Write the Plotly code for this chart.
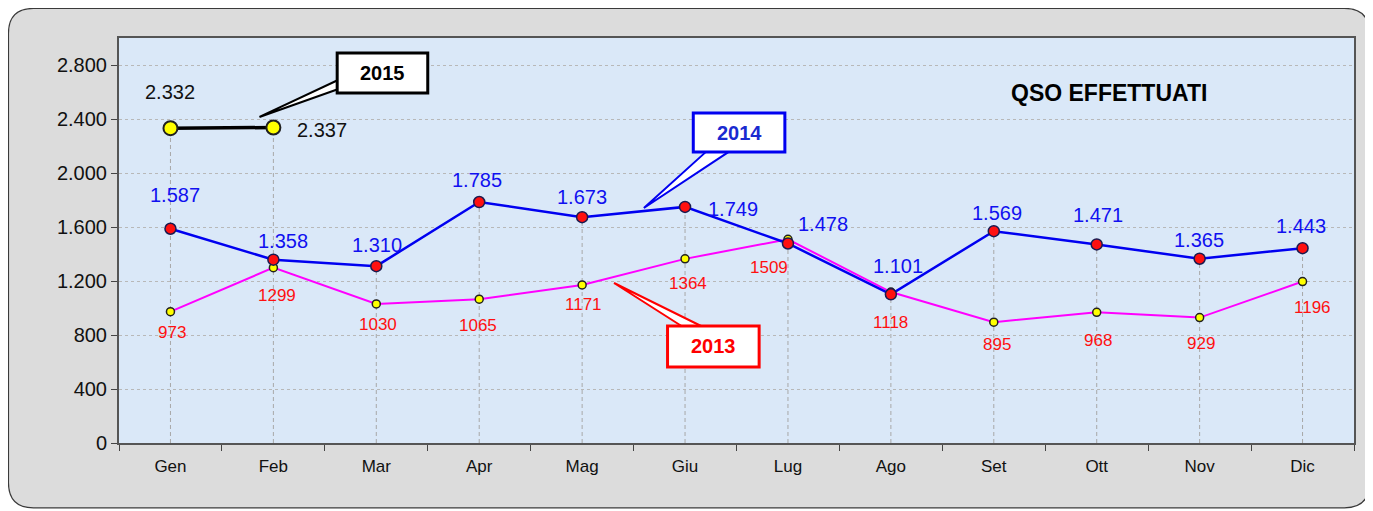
import plotly.graph_objs as go

months = ['Gen', 'Feb', 'Mar', 'Apr', 'Mag', 'Giu', 'Lug', 'Ago', 'Set', 'Ott', 'Nov', 'Dic']
qso_2013 = [973, 1299, 1030, 1065, 1171, 1364, 1509, 1118, 895, 968, 929, 1196]
qso_2014 = [1587, 1358, 1310, 1785, 1673, 1749, 1478, 1101, 1569, 1471, 1365, 1443]
qso_2015 = [2332, 2337]
y_ticks = [0, 400, 800, 1200, 1600, 2000, 2400, 2800]

FONT = 'Liberation Sans, Arial, sans-serif'

# label offsets in px (dx, dy) for each point
off_2013 = [(2, 21), (4, 28), (2, 21), (-1, 26), (1, 20), (3, 25), (-19, 28),
            (0, 30), (3, 22), (1, 28), (1, 26), (10, 26)]
off_2014 = [(5, -34), (10, -19), (1, -21), (-2, -22), (0, -20), (48, 2), (35, -19),
            (7, -28), (3, -18), (1, -29), (-1, -19), (-2, -22)]
off_2015 = [(0, -36), (49, 2)]


def dotted(v):
    return f'{v:,}'.replace(',', '.')


fig = go.Figure()

# drop lines
dx, dy = [], []
for i, m in enumerate(months):
    vals = [qso_2013[i], qso_2014[i]] + ([qso_2015[i]] if i < len(qso_2015) else [])
    dx += [m, m, None]
    dy += [0, max(vals), None]
fig.add_trace(go.Scatter(x=dx, y=dy, mode='lines', hoverinfo='skip',
                         line=dict(color='#a8a8a8', width=1, dash='4px,3px')))

fig.add_trace(go.Scatter(
    x=months, y=qso_2013, mode='lines+markers', name='2013',
    line=dict(color='#ff00ff', width=2),
    marker=dict(size=8, color='#ffff00', line=dict(color='#202020', width=1.5))))
fig.add_trace(go.Scatter(
    x=months, y=qso_2014, mode='lines+markers', name='2014',
    line=dict(color='#0000f0', width=2.5),
    marker=dict(size=11, color='#ff1010', line=dict(color='#1a1a50', width=1.5))))
fig.add_trace(go.Scatter(
    x=months[:len(qso_2015)], y=qso_2015, mode='lines+markers', name='2015',
    line=dict(color='#000000', width=3.5),
    marker=dict(size=14, color='#ffff00', line=dict(color='#202020', width=2))))

annotations = []
for vals, offs, color, size, fmt in [
        (qso_2013, off_2013, '#ff1010', 17, str),
        (qso_2014, off_2014, '#1010f0', 20, dotted),
        (qso_2015, off_2015, '#111111', 20, dotted)]:
    for i, v in enumerate(vals):
        annotations.append(dict(x=months[i], y=v, text=fmt(v), showarrow=False,
                                xshift=offs[i][0], yshift=-offs[i][1],
                                font=dict(family=FONT, size=size, color=color)))

annotations.append(dict(x=0.802, y=0.864, xref='paper', yref='paper', showarrow=False,
                        xanchor='center', yanchor='middle',
                        text='<b>QSO EFFETTUATI</b>',
                        font=dict(family=FONT, size=23, color='#000000')))

shapes = []
# outer rounded frame
x0, x1, y0, y1 = -0.0895, 1.0125, -0.160, 1.073
rx, ry = 25 / 1235, 25 / 405
frame = (f'M {x0+rx},{y1} L {x1-rx},{y1} Q {x1},{y1} {x1},{y1-ry} '
         f'L {x1},{y0+ry} Q {x1},{y0} {x1-rx},{y0} L {x0+rx},{y0} '
         f'Q {x0},{y0} {x0},{y0+ry} L {x0},{y1-ry} Q {x0},{y1} {x0+rx},{y1} Z')
shapes.append(dict(type='path', path=frame, xref='paper', yref='paper', layer='below',
                   fillcolor='#dcdcdc', line=dict(color='#3a3a3a', width=1.2)))
shapes.append(dict(type='rect', x0=0, x1=1, y0=0, y1=1, xref='paper', yref='paper',
                   layer='below', fillcolor='#dae8f8', line=dict(width=0)))

# callouts: (label, color, box x0,x1,y0,y1, wedge base pts, tip)
callouts = [
    ('2015', '#000000', (1.62, 2.50, 2593, 2889), [(1.66, 2700), (1.66, 2630)], (0.865, 2415)),
    ('2014', '#0000f0', (5.08, 5.97, 2156, 2444), [(5.23, 2175), (5.46, 2175)], (4.60, 1741)),
    ('2013', '#ff0000', (4.83, 5.72, 563, 867), [(5.00, 850), (5.20, 850)], (4.31, 1185)),
]
for label, color, (bx0, bx1, by0, by1), base, tip in callouts:
    shapes.append(dict(type='path', xref='x', yref='y',
                       path=f'M {base[0][0]},{base[0][1]} L {tip[0]},{tip[1]} L {base[1][0]},{base[1][1]} Z',
                       fillcolor='white', line=dict(color=color, width=2)))
    shapes.append(dict(type='rect', xref='x', yref='y', x0=bx0, x1=bx1, y0=by0, y1=by1,
                       fillcolor='white', line=dict(color=color, width=3)))
    annotations.append(dict(x=(bx0 + bx1) / 2, y=(by0 + by1) / 2, text=f'<b>{label}</b>',
                            showarrow=False,
                            font=dict(family=FONT, size=20, color=color if color != '#0000f0' else '#1a2ad0')))

# page body has an 8px margin, so the figure is 8px smaller on each side
fig.update_layout(
    width=1365, height=503,
    margin=dict(l=111, r=19, t=30, b=68),
    paper_bgcolor='white', plot_bgcolor='rgba(0,0,0,0)',
    showlegend=False, separators=',.',
    font=dict(family=FONT, color='#111111'),
    shapes=shapes, annotations=annotations,
    xaxis=dict(type='category', range=[-0.5, 11.5], tickson='boundaries',
               ticks='outside', ticklen=6, tickcolor='#444', showgrid=False,
               showline=True, linecolor='#555555', linewidth=2, mirror=True,
               ticklabelstandoff=7,
               tickfont=dict(size=17, color='#111111', family=FONT)),
    yaxis=dict(range=[0, 3000], tickvals=y_ticks, tickformat=',d',
               ticks='outside', ticklen=6, tickcolor='#444',
               showgrid=True, gridcolor='#b8b8b8', griddash='dot', gridwidth=1,
               showline=True, linecolor='#555555', linewidth=2, mirror=True,
               zeroline=False, tickfont=dict(size=20, color='#111111', family=FONT)),
)

fig.write_html("out.html")
